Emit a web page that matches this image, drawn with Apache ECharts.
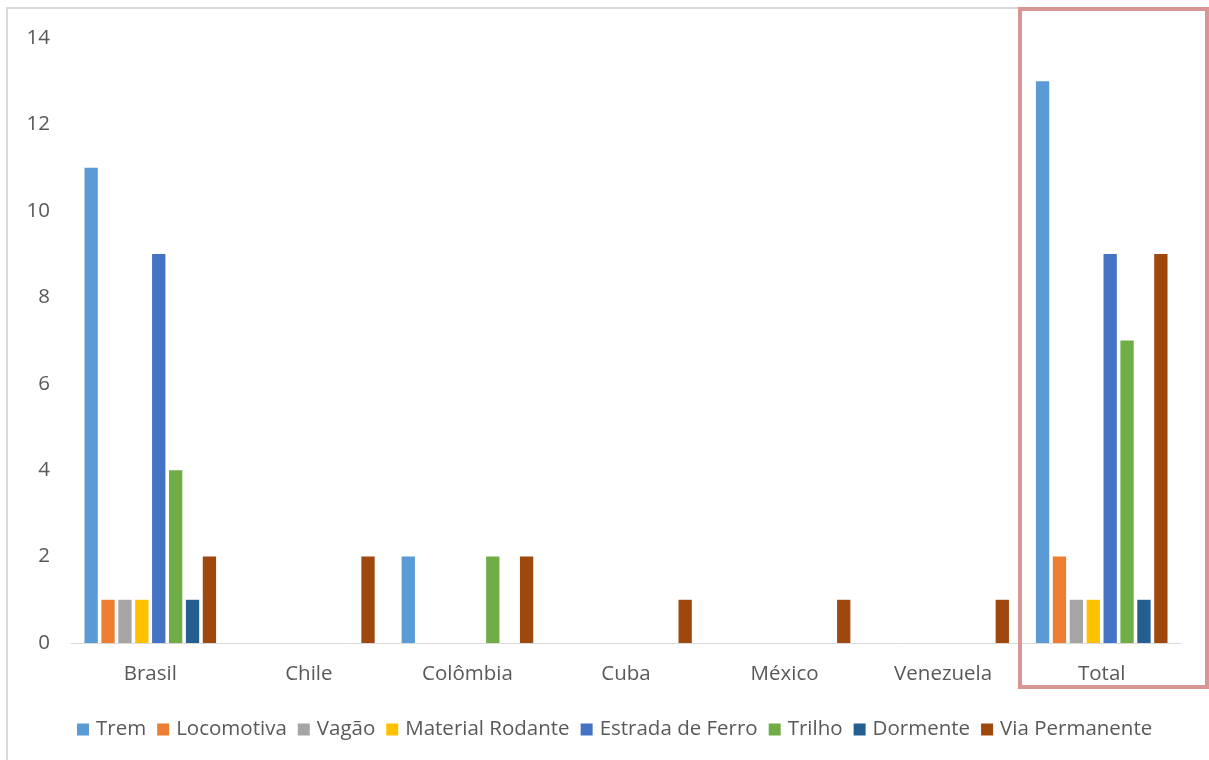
<!DOCTYPE html>
<html>
<head>
<meta charset="utf-8">
<style>
  html, body { margin: 0; padding: 0; background: #ffffff; }
  #chart { width: 1209px; height: 760px; }
</style>
<script src="https://cdn.jsdelivr.net/npm/echarts@6/dist/echarts.min.js"></script>
</head>
<body>
<div id="chart"></div>
<script>
// Countries on the category axis
const categories = ['Brasil', 'Chile', 'Colômbia', 'Cuba', 'México', 'Venezuela', 'Total'];

// Counts per term, one array per series (same order as categories)
const trem           = [11, 0, 2, 0, 0, 0, 13];
const locomotiva     = [1, 0, 0, 0, 0, 0, 2];
const vagao          = [1, 0, 0, 0, 0, 0, 1];
const materialRodante= [1, 0, 0, 0, 0, 0, 1];
const estradaDeFerro = [9, 0, 0, 0, 0, 0, 9];
const trilho         = [4, 0, 2, 0, 0, 0, 7];
const dormente       = [1, 0, 0, 0, 0, 0, 1];
const viaPermanente  = [2, 2, 2, 1, 1, 1, 9];

const seriesNames = ['Trem', 'Locomotiva', 'Vagão', 'Material Rodante', 'Estrada de Ferro', 'Trilho', 'Dormente', 'Via Permanente'];
const seriesData  = [trem, locomotiva, vagao, materialRodante, estradaDeFerro, trilho, dormente, viaPermanente];
const palette     = ['#5B9BD5', '#ED7D31', '#A5A5A5', '#FFC000', '#4472C4', '#70AD47', '#255E91', '#9E480E'];

const FONT = '"Open Sans", Lato, sans-serif';
const TEXT = '#595959';

const chart = echarts.init(document.getElementById('chart'), null, { renderer: 'canvas' });

chart.setOption({
  animation: false,
  color: palette,
  grid: { left: 71, right: 28, top: 38, bottom: 117, containLabel: false },
  xAxis: {
    type: 'category',
    data: categories,
    axisLine: { lineStyle: { color: '#D9D9D9', width: 1 } },
    axisTick: { show: false },
    axisLabel: { color: TEXT, fontFamily: FONT, fontSize: 20.5, margin: 21 }
  },
  yAxis: {
    type: 'value',
    min: 0,
    max: 14,
    interval: 2,
    axisLine: { show: false },
    axisTick: { show: false },
    splitLine: { show: false },
    axisLabel: { color: TEXT, fontFamily: FONT, fontSize: 20.5, margin: 21 }
  },
  legend: {
    bottom: 20,
    left: 77,
    padding: 0,
    itemWidth: 12,
    itemHeight: 12,
    itemGap: 11,
    icon: 'rect',
    textStyle: { color: TEXT, fontFamily: FONT, fontSize: 20.5, padding: [0, 0, 0, 2] },
    data: seriesNames
  },
  series: seriesNames.map((name, i) => ({
    name: name,
    type: 'bar',
    data: seriesData[i],
    barGap: '27%',
    barCategoryGap: '17%'
  })),
  graphic: [
    {
      type: 'rect',
      silent: true,
      shape: { x: 7, y: 8, width: 1260, height: 800 },
      style: { fill: null, stroke: '#D9D9D9', lineWidth: 2 },
      z: 100
    },
    {
      type: 'rect',
      silent: true,
      shape: { x: 1020, y: 9, width: 187, height: 678 },
      style: { fill: null, stroke: '#DA9694', lineWidth: 4 },
      z: 101
    }
  ]
});
</script>
</body>
</html>
